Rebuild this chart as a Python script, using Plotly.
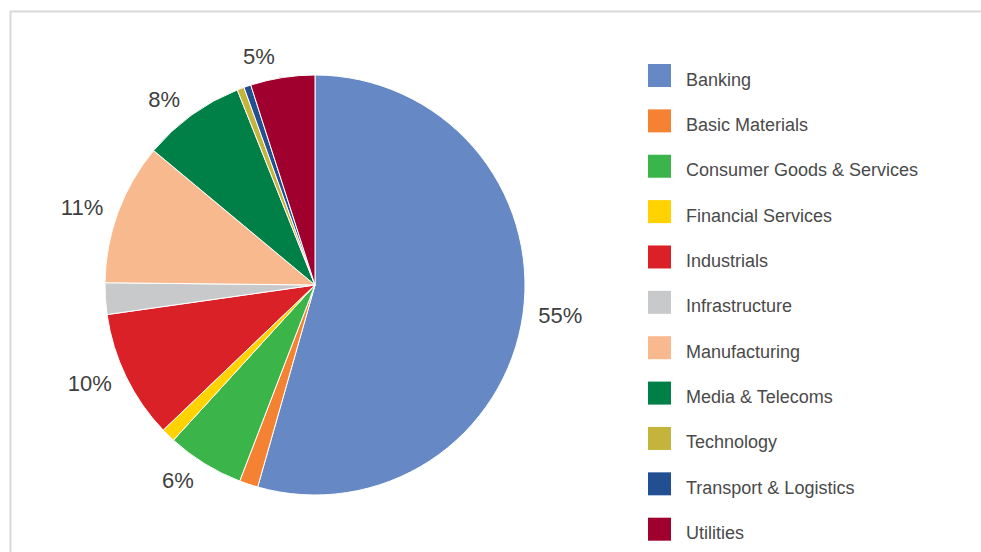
import plotly.graph_objects as go

# Sector breakdown (% of total)
sectors = [
    "Banking", "Basic Materials", "Consumer Goods & Services", "Financial Services",
    "Industrials", "Infrastructure", "Manufacturing", "Media & Telecoms",
    "Technology", "Transport & Logistics", "Utilities",
]
shares = [55, 1.45, 6, 1.1, 10, 2.45, 11, 8, 0.55, 0.55, 5]
colors = [
    "#6689c6", "#f58232", "#3bb54a", "#ffd200", "#da2128", "#c8c9cb",
    "#f9b98e", "#008047", "#c4b43b", "#224f91", "#a0002e",
]

W, H = 981, 552
FONT = "Liberation Sans, Arial, sans-serif"
CX, CY, R = 315, 285, 210     # pie centre and radius in px
R_LABEL = 219                 # radius the outside labels are laid out from

# only the larger slices carry a percentage label
labels_txt = [f"{v:.0f}%" if v >= 4 else "" for v in shares]


def dom(r):
    return dict(x=[(CX - r) / W, (CX + r) / W], y=[1 - (CY + r) / H, 1 - (CY - r) / H])


fig = go.Figure()

# transparent ring carrying the percentage labels a little off the pie edge
fig.add_trace(go.Pie(
    labels=sectors,
    values=shares,
    text=labels_txt,
    textinfo="text",
    textposition="outside",
    outsidetextfont=dict(family=FONT, size=22, color="#404040"),
    marker=dict(colors=["rgba(0,0,0,0)"] * len(shares), line=dict(width=0)),
    sort=False,
    direction="clockwise",
    rotation=0,
    showlegend=False,
    hoverinfo="skip",
    domain=dom(R_LABEL),
))

# the pie itself
fig.add_trace(go.Pie(
    labels=sectors,
    values=shares,
    textinfo="none",
    marker=dict(colors=colors, line=dict(color="white", width=1)),
    sort=False,
    direction="clockwise",
    rotation=0,
    showlegend=False,
    domain=dom(R),
    hovertemplate="%{label}: %{value}%<extra></extra>",
))


def px_x(p):
    return p / W


def px_y(p):
    return 1 - p / H


shapes = []
annotations = []

# outer frame (top and left edges visible)
shapes.append(dict(
    type="rect", xref="paper", yref="paper",
    x0=px_x(10.5), x1=1.02, y0=-0.02, y1=px_y(11.5),
    line=dict(color="#d9d9d9", width=2), fillcolor="rgba(0,0,0,0)", layer="below",
))

# legend: coloured squares with sector names
leg_top, leg_step, sq = 75.5, 45.37, 23
for i, (name, col) in enumerate(zip(sectors, colors)):
    cy = leg_top + i * leg_step
    shapes.append(dict(
        type="rect", xref="paper", yref="paper",
        x0=px_x(648), x1=px_x(648 + sq), y0=px_y(cy + sq / 2), y1=px_y(cy - sq / 2),
        line=dict(width=0), fillcolor=col,
    ))
    annotations.append(dict(
        xref="paper", yref="paper", x=px_x(684), y=px_y(cy + 4),
        xanchor="left", yanchor="middle", showarrow=False,
        text=name, font=dict(family=FONT, size=18, color="#4a4a4a"),
    ))

fig.update_layout(
    width=W, height=H,
    margin=dict(l=0, r=0, t=0, b=0),
    paper_bgcolor="white",
    plot_bgcolor="white",
    shapes=shapes,
    annotations=annotations,
)

fig.write_html("out.html")
